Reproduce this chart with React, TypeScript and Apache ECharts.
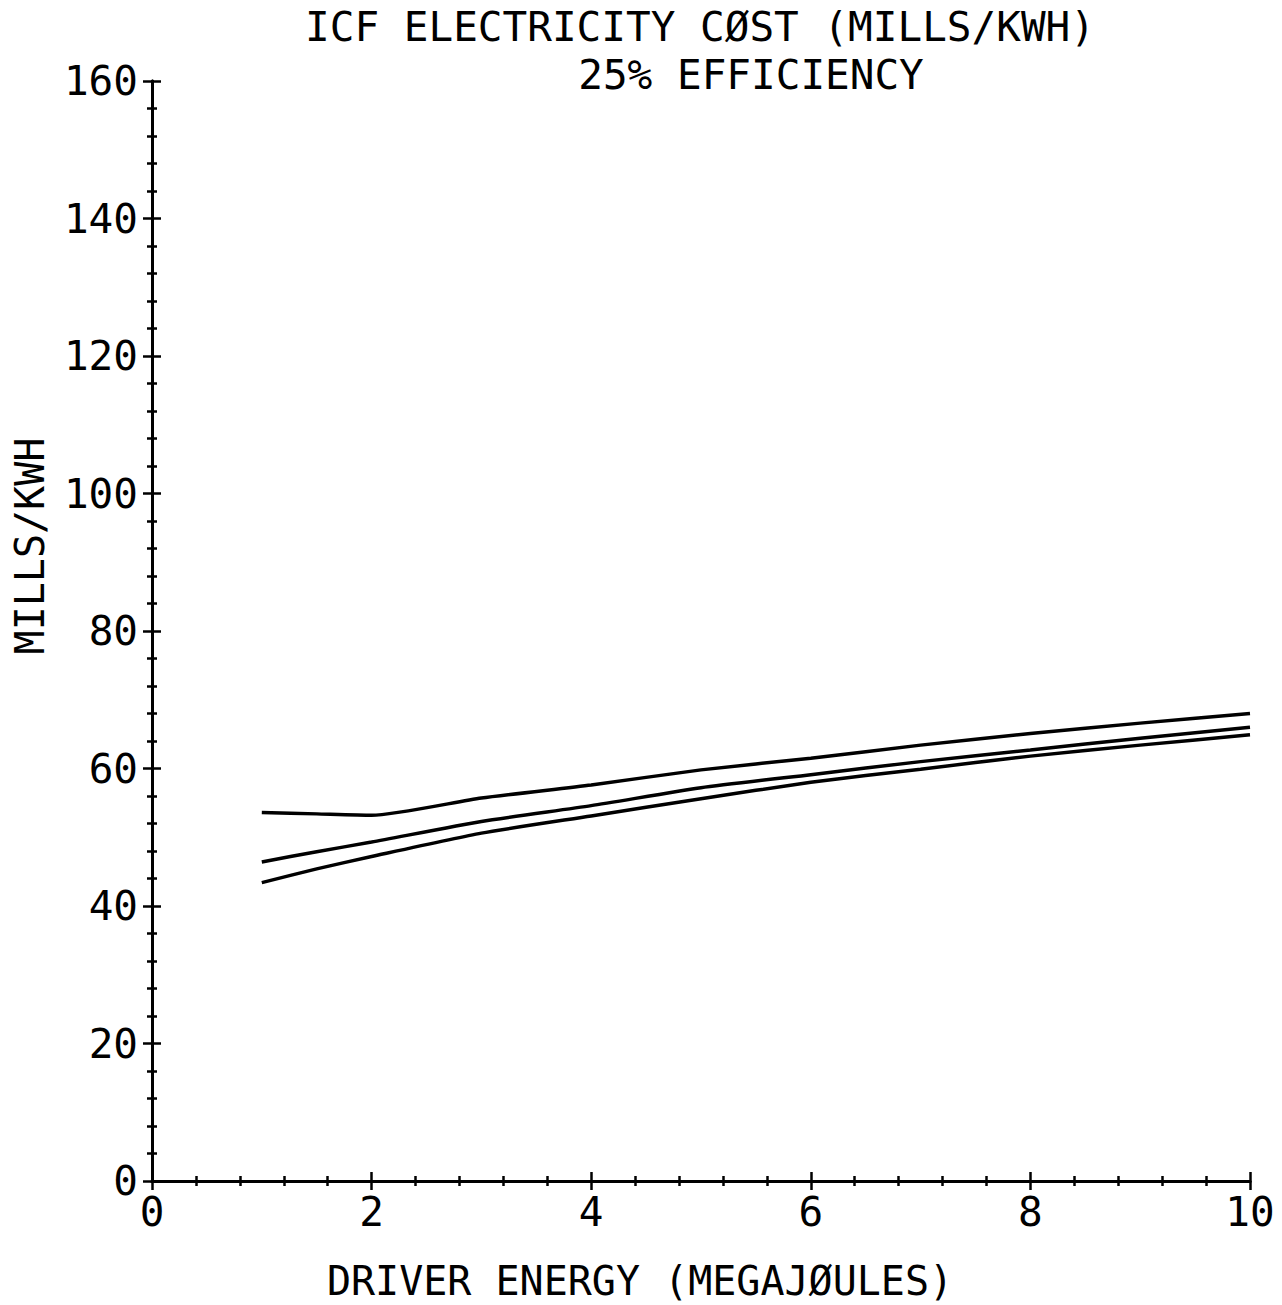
import React, { useEffect, useRef } from "react";
import * as echarts from "echarts";

// Driver energy (MJ) sample points for each cost curve
const energy = [1, 1.5, 2, 3, 4, 5, 6, 7, 8, 9, 10];

// Electricity cost (mills/kWh), three design cases
const upperCost = [53.6, 53.4, 53.2, 55.7, 57.6, 59.8, 61.5, 63.4, 65.1, 66.6, 68.0];
const middleCost = [46.4, 47.9, 49.3, 52.3, 54.6, 57.2, 59.1, 61.0, 62.7, 64.4, 66.0];
const lowerCost = [43.4, 45.4, 47.2, 50.6, 53.1, 55.6, 58.0, 59.9, 61.8, 63.4, 64.9];

const xTicks = [0, 2, 4, 6, 8, 10];
const yTicks = [0, 20, 40, 60, 80, 100, 120, 140, 160];

const titleLine1 = "ICF ELECTRICITY CØST (MILLS/KWH)";
const titleLine2 = "25% EFFICIENCY";
const xName = "DRIVER ENERGY (MEGAJØULES)";
const yName = "MILLS/KWH";

const FONT = "DejaVu Sans Mono";

function pairs(ys: number[]) {
  return energy.map((x, i) => [x, ys[i]]);
}

export default function App() {
  const ref = useRef<HTMLDivElement>(null);

  useEffect(() => {
    if (!ref.current) return;
    const chart = echarts.init(ref.current, undefined, { renderer: "svg" });

    const xBase = {
      type: "value" as const,
      min: xTicks[0],
      max: xTicks[xTicks.length - 1],
      interval: 2,
      position: "bottom" as const,
      splitLine: { show: false },
    };
    const yBase = {
      type: "value" as const,
      min: yTicks[0],
      max: yTicks[yTicks.length - 1],
      interval: 20,
      position: "left" as const,
      splitLine: { show: false },
    };
    const lineStyle = { color: "#000", width: 3 };
    const tickStyle = { color: "#000", width: 2.5 };

    // Ticks cross the axis line: the first grid's axes carry the outward half,
    // an identical second grid carries the inward half.
    const outerTicks = {
      axisLine: { show: true, onZero: false, lineStyle },
      axisTick: { show: true, inside: false, length: 9, lineStyle: tickStyle },
      minorTick: { show: true, splitNumber: 5, length: 5, lineStyle: tickStyle },
    };
    const innerTicks = {
      axisLine: { show: true, onZero: false, lineStyle },
      axisTick: { show: true, inside: true, length: 9, lineStyle: tickStyle },
      minorTick: { show: true, splitNumber: 5, length: 5, lineStyle: tickStyle },
      axisLabel: { show: false },
    };
    const labelStyle = {
      show: true,
      color: "#000",
      fontFamily: FONT,
      fontSize: 41,
      formatter: (v: number) => String(v),
    };

    const seriesStyle = {
      type: "line" as const,
      showSymbol: false,
      smooth: 0.2,
      lineStyle: { color: "#000", width: 3.5 },
    };

    const textStyle = (text: string) => ({
      text,
      font: `40px ${FONT}`,
      fill: "#000",
      align: "center",
      verticalAlign: "middle",
    });

    const gridBox = { left: 152, right: 32, top: 81, bottom: 124, containLabel: false };

    chart.setOption({
      animation: false,
      backgroundColor: "#fff",
      grid: [{ ...gridBox }, { ...gridBox }],
      graphic: [
        { type: "text", x: 700, y: 27, style: { ...textStyle(titleLine1), font: `41px ${FONT}` } },
        { type: "text", x: 751, y: 75, style: { ...textStyle(titleLine2), font: `41px ${FONT}` } },
        { type: "text", x: 640, y: 1281, style: textStyle(xName) },
        { type: "text", x: 30, y: 546, rotation: Math.PI / 2, style: textStyle(yName) },
      ],
      xAxis: [
        { ...xBase, gridIndex: 0, ...outerTicks, axisLabel: { ...labelStyle, margin: 10 } },
        { ...xBase, gridIndex: 1, ...innerTicks },
      ],
      yAxis: [
        { ...yBase, gridIndex: 0, ...outerTicks, axisLabel: { ...labelStyle, margin: 14 } },
        { ...yBase, gridIndex: 1, ...innerTicks },
      ],
      series: [
        { ...seriesStyle, name: "upper", xAxisIndex: 0, yAxisIndex: 0, data: pairs(upperCost) },
        { ...seriesStyle, name: "middle", xAxisIndex: 1, yAxisIndex: 1, data: pairs(middleCost) },
        { ...seriesStyle, name: "lower", xAxisIndex: 0, yAxisIndex: 0, data: pairs(lowerCost) },
      ],
    });

    return () => chart.dispose();
  }, []);

  return (
    <div
      ref={ref}
      style={{ position: "fixed", left: 0, top: 0, width: 1282, height: 1305, background: "#fff" }}
    />
  );
}
